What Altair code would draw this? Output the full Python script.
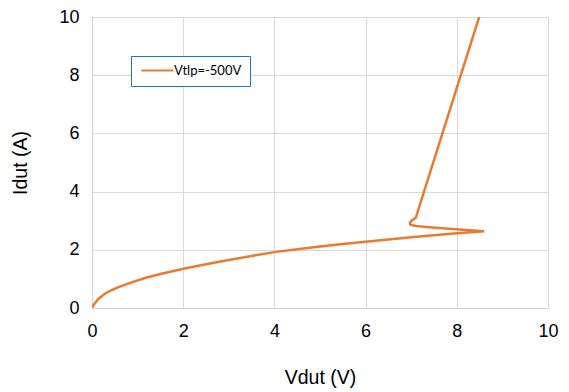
import altair as alt
import pandas as pd

vdut = [0, 0.05, 0.14, 0.28, 0.42, 0.58, 0.87, 1.16, 1.5, 2.0, 2.5, 3.0, 3.5, 4.0, 4.5, 5.0, 5.5,
        6.0, 7.0, 8.0, 8.6, 8.13, 7.46, 7.1, 6.98, 6.97, 7.0, 7.1, 8.49]
idut = [0, 0.14, 0.31, 0.49, 0.61, 0.72, 0.88, 1.03, 1.17, 1.35, 1.50, 1.65, 1.79, 1.92, 2.02, 2.11, 2.20,
        2.28, 2.43, 2.57, 2.64, 2.69, 2.77, 2.82, 2.86, 2.92, 2.99, 3.10, 10.0]
series = "Vtlp=-500V"

df = pd.DataFrame({"Vdut": vdut, "Idut": idut, "step": list(range(len(vdut))), "series": series})

font = "Liberation Sans"

def axis(title, label_pad, title_pad):
    return alt.Axis(values=[0, 2, 4, 6, 8, 10], title=title, ticks=False, labelFlush=False,
                    labelPadding=label_pad, titlePadding=title_pad, labelFontSize=18, titleFontSize=19.5,
                    labelFont=font, titleFont=font, titleFontWeight="normal",
                    labelColor="#000", titleColor="#000",
                    domainColor="#d0d0d0", gridColor="#d9d9d9")

chart = alt.Chart(df).mark_line(strokeWidth=2.5, clip=True).encode(
    x=alt.X("Vdut:Q", scale=alt.Scale(domain=[0, 10], nice=False), axis=axis("Vdut (V)", 14, 28)),
    y=alt.Y("Idut:Q", scale=alt.Scale(domain=[0, 10], nice=False), axis=axis("Idut (A)", 13, 28)),
    order="step:Q",
    color=alt.Color("series:N", scale=alt.Scale(range=["#E87B30"]),
                    legend=alt.Legend(title=None, orient="none", legendX=39, legendY=39,
                                      symbolType="M-1,0H6.6", symbolSize=72, symbolStrokeWidth=2,
                                      labelFont="Lato", labelFontSize=13, labelColor="#000",
                                      strokeColor="#1a78c8", fillColor="#ffffff", padding=8,
                                      labelOffset=22)),
).properties(
    width=456, height=291,
    autosize=alt.AutoSizeParams(type="none"),
    padding={"left": 92, "top": 17, "right": 21, "bottom": 84},
).configure_view(stroke=None).configure(background="white")

chart.save("out.html", embed_options={"renderer": "svg", "actions": False})
